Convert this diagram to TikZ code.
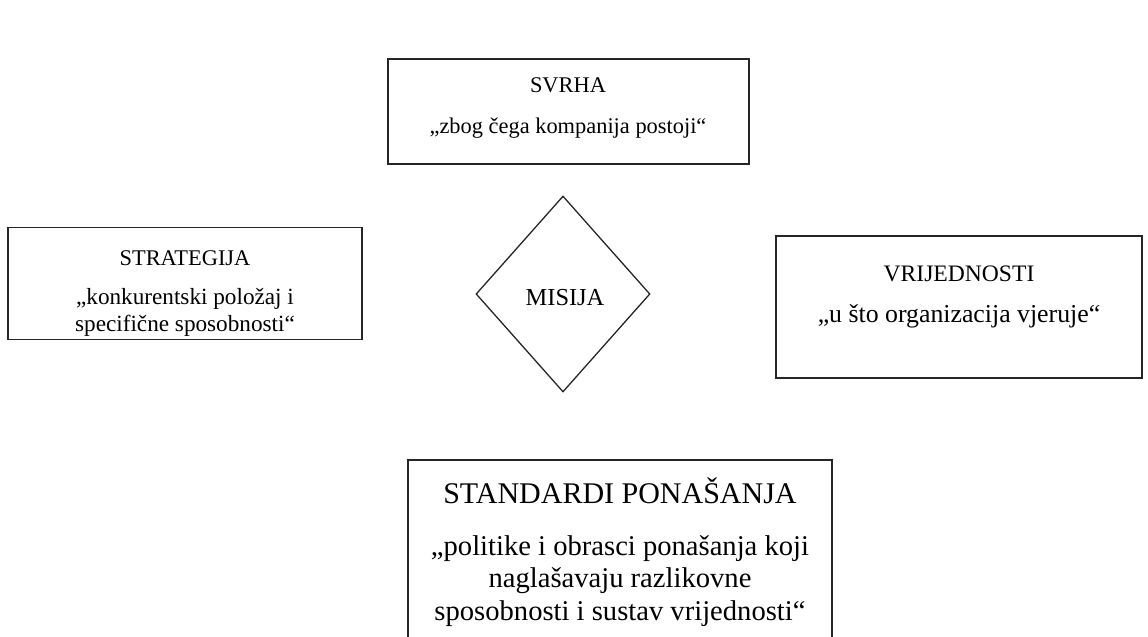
\documentclass[tikz,border=0pt]{standalone}
\usepackage{fontspec}
\setmainfont{Liberation Serif}
\usetikzlibrary{shapes.geometric}
\tikzset{box/.style={rectangle,draw=black!85,line width=0.65pt,inner sep=0pt},
  txt/.style={align=center,inner sep=0pt,font=\fontsize{11.2}{15.5}\selectfont}}

\begin{document}
\begin{tikzpicture}[x=0.5pt,y=-0.5pt]
\useasboundingbox (0,0) rectangle (1148,637);
\clip (0,0) rectangle (1148,637);
% boxes
\node (svrha) [box,minimum width=180.5pt,minimum height=52.5pt] at (568.5,111.5) {};
\node (strat) [box,minimum width=177pt,minimum height=56pt] at (185,283.5) {};
\node (misija) [diamond,draw=black!85,line width=0.65pt,inner sep=0pt,
  minimum width=87pt,minimum height=98pt,aspect=0.888] at (563,294) {};
\node (vrij) [box,minimum width=183pt,minimum height=71pt] at (959,307) {};
\node (stand) [box,minimum width=212pt,minimum height=120pt] at (620,580) {};
%
\node (svrhaT) [txt] at (568,85) {SVRHA};
\node (svrhaQ) [txt] at (568,128) {„zbog čega kompanija postoji“};
\node (stratT) [txt] at (185,258) {STRATEGIJA};
\node (stratQ) [txt,font=\fontsize{11.6}{13.5}\selectfont] at (185,312) {„konkurentski položaj i\\specifične sposobnosti“};
\node (misijaT) [txt,font=\fontsize{12.2}{14}\selectfont] at (565,298) {MISIJA};
\node (vrijT) [txt,font=\fontsize{11.8}{14}\selectfont] at (959,274) {VRIJEDNOSTI};
\node (vrijQ) [txt,font=\fontsize{12.9}{15}\selectfont] at (959,316) {„u što organizacija vjeruje“};
\node (standT) [txt,font=\fontsize{15}{16}\selectfont] at (620,491) {STANDARDI PONAŠANJA};
\node (standQ) [txt,font=\fontsize{14.3}{16.2}\selectfont] at (620,581) {„politike i obrasci ponašanja koji\\naglašavaju razlikovne\\sposobnosti i sustav vrijednosti“};
\end{tikzpicture}
\end{document}
